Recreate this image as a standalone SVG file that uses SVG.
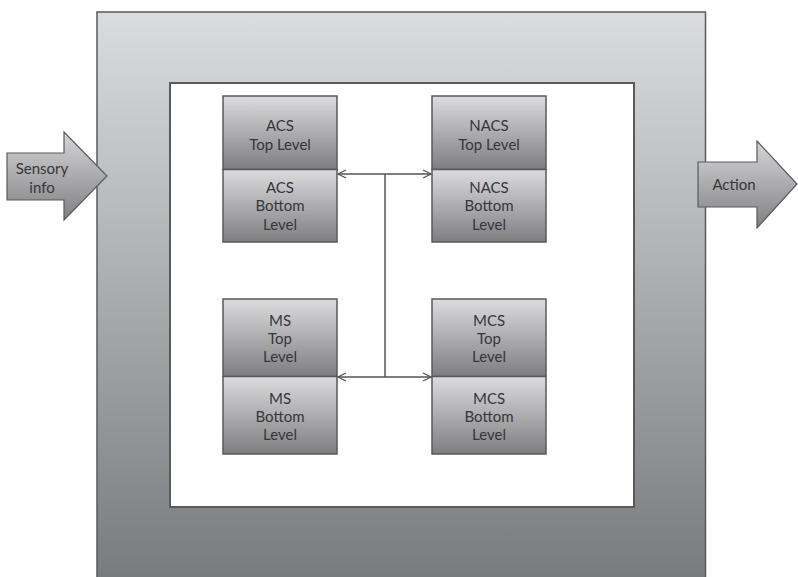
<svg xmlns="http://www.w3.org/2000/svg" width="798" height="577" viewBox="0 0 798 577">
  <defs>
    <linearGradient id="frameGrad" x1="0" y1="0" x2="0" y2="1">
      <stop offset="0" stop-color="#dbdcdd"/>
      <stop offset="1" stop-color="#77787b"/>
    </linearGradient>
    <linearGradient id="boxGrad" x1="0" y1="0" x2="0" y2="1">
      <stop offset="0" stop-color="#dcdcde"/>
      <stop offset="1" stop-color="#7e7e81"/>
    </linearGradient>
    <linearGradient id="arrowGrad" x1="0" y1="0" x2="0" y2="1">
      <stop offset="0" stop-color="#d6d6d8"/>
      <stop offset="1" stop-color="#808083"/>
    </linearGradient>
    <marker id="open" viewBox="0 0 10 10" refX="9" refY="5" markerWidth="10" markerHeight="10" markerUnits="userSpaceOnUse" orient="auto-start-reverse">
      <path d="M1,1 L9,5 L1,9" fill="none" stroke="#555558" stroke-width="1.3"/>
    </marker>
  </defs>
  <style>
    .frame { fill: url(#frameGrad); stroke: #5a5a5d; stroke-width: 1.5; }
    .inner { fill: #ffffff; stroke: #5a5a5d; stroke-width: 2; }
    .box { fill: url(#boxGrad); stroke: #5a5a5d; stroke-width: 1.5; }
    .arrow { fill: url(#arrowGrad); stroke: #5a5a5d; stroke-width: 1.2; }
    .label { font-family: Lato, "Open Sans", "Liberation Sans", sans-serif; font-size: 15px; fill: #363639; text-anchor: middle; dominant-baseline: central; }
    .link { fill: none; stroke: #555558; stroke-width: 1.5; }
  </style>

  <!-- outer frame and inner working area -->
  <rect class="frame" x="97" y="12" width="608.5" height="580"/>
  <rect class="inner" x="170" y="83" width="464" height="424"/>

  <!-- input arrow -->
  <g id="sensory">
    <path class="arrow" d="M7,153 L64,153 L64,132 L107,176 L64,220 L64,200 L7,200 Z"/>
    <text class="label" x="42" y="168">Sensory</text>
    <text class="label" x="42" y="187">info</text>
  </g>

  <!-- output arrow -->
  <g id="action">
    <path class="arrow" d="M698,162 L757,162 L757,141 L797,184 L757,228 L757,207 L698,207 Z"/>
    <text class="label" x="734" y="184">Action</text>
  </g>

  <!-- ACS -->
  <g id="acs">
    <rect class="box" x="223" y="96" width="114" height="73.5"/>
    <rect class="box" x="223" y="169.5" width="114" height="72.5"/>
    <text class="label" x="280" y="125">ACS</text>
    <text class="label" x="280" y="144">Top Level</text>
    <text class="label" x="280" y="187">ACS</text>
    <text class="label" x="280" y="205">Bottom</text>
    <text class="label" x="280" y="224">Level</text>
  </g>

  <!-- NACS -->
  <g id="nacs">
    <rect class="box" x="432" y="96" width="114" height="73.5"/>
    <rect class="box" x="432" y="169.5" width="114" height="72.5"/>
    <text class="label" x="489" y="125">NACS</text>
    <text class="label" x="489" y="144">Top Level</text>
    <text class="label" x="489" y="187">NACS</text>
    <text class="label" x="489" y="205">Bottom</text>
    <text class="label" x="489" y="224">Level</text>
  </g>

  <!-- MS -->
  <g id="ms">
    <rect class="box" x="223" y="299" width="114" height="77.5"/>
    <rect class="box" x="223" y="376.5" width="114" height="77.5"/>
    <text class="label" x="280" y="320">MS</text>
    <text class="label" x="280" y="338">Top</text>
    <text class="label" x="280" y="356">Level</text>
    <text class="label" x="280" y="398">MS</text>
    <text class="label" x="280" y="416">Bottom</text>
    <text class="label" x="280" y="434">Level</text>
  </g>

  <!-- MCS -->
  <g id="mcs">
    <rect class="box" x="432" y="299" width="114" height="77.5"/>
    <rect class="box" x="432" y="376.5" width="114" height="77.5"/>
    <text class="label" x="489" y="320">MCS</text>
    <text class="label" x="489" y="338">Top</text>
    <text class="label" x="489" y="356">Level</text>
    <text class="label" x="489" y="398">MCS</text>
    <text class="label" x="489" y="416">Bottom</text>
    <text class="label" x="489" y="434">Level</text>
  </g>

  <!-- connectors -->
  <g id="connectors">
    <line class="link" x1="385" y1="174" x2="385" y2="377"/>
    <line class="link" x1="338" y1="174" x2="431" y2="174" marker-start="url(#open)" marker-end="url(#open)"/>
    <line class="link" x1="338" y1="377" x2="431" y2="377" marker-start="url(#open)" marker-end="url(#open)"/>
  </g>
</svg>
